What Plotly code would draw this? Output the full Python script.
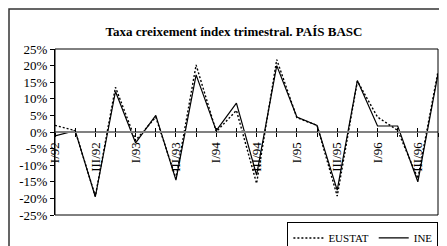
import plotly.graph_objects as go

quarters = ["I/92", "II/92", "III/92", "IV/92", "I/93", "II/93", "III/93", "IV/93",
            "I/94", "II/94", "III/94", "IV/94", "I/95", "II/95", "III/95", "IV/95",
            "I/96", "II/96", "III/96", "IV/96"]
ine = [-1.2, 0.4, -19.5, 12.2, -3.3, 5.0, -14.5, 17.2, 0.4, 8.7, -13.0, 20.0,
       4.5, 2.0, -17.5, 15.5, 1.8, 1.8, -15.0, 17.5]
eustat = [2.0, 0.4, -19.4, 13.5, -2.5, 4.5, -14.0, 20.2, 0.1, 6.5, -15.5, 21.8,
          4.3, 2.0, -19.3, 15.3, 4.5, 0.5, -14.0, 18.2]
y_ticks = [25, 20, 15, 10, 5, 0, -5, -10, -15, -20, -25]
y_ticktext = ["25%", "20%", "15%", "10%", "5%", "0%", "-5%", "-10%", "-15%", "-20%", "-25%"]
x_idx = list(range(len(quarters)))
x_ticktext = [q if q.startswith("I/") or q.startswith("III/") else "" for q in quarters]

FONT = "Liberation Serif, Times New Roman, serif"

fig = go.Figure()
fig.add_trace(go.Scatter(x=x_idx, y=eustat, mode="lines", name="EUSTAT",
                         line=dict(color="black", width=1.4, dash="2px,2px")))
fig.add_trace(go.Scatter(x=x_idx, y=ine, mode="lines", name="INE",
                         line=dict(color="black", width=1.2)))
# helper trace so the overlaying tick axis is drawn
fig.add_trace(go.Scatter(x=[x_idx[0]], y=[0], xaxis="x2", mode="lines",
                         showlegend=False, hoverinfo="skip", line=dict(width=0)))

W, H = 431, 238
fig.update_layout(
    width=W, height=H,
    margin=dict(l=47, r=1, t=41, b=31, autoexpand=False),
    paper_bgcolor="white", plot_bgcolor="white",
    font=dict(family=FONT, color="black", size=13),
    title=dict(text="<b>Taxa creixement índex trimestral. PAÍS BASC</b>",
               x=226 / W, xref="container", xanchor="center",
               y=1 - 23 / H, yref="container", yanchor="middle",
               font=dict(family=FONT, size=13, color="black")),
    xaxis=dict(range=[0, len(quarters) - 1], tickmode="array", tickvals=x_idx,
               ticktext=x_ticktext, ticks="outside", ticklen=4, tickcolor="black",
               tickangle=-90, anchor="free", position=0.5, showline=True,
               linecolor="#808080", linewidth=2, showgrid=False, zeroline=False,
               tickfont=dict(family=FONT, size=13)),
    xaxis2=dict(range=[0, len(quarters) - 1], overlaying="x", tickmode="array",
                tickvals=x_idx, ticks="inside", ticklen=4, tickcolor="black",
                showticklabels=False, anchor="free", position=0.5, showline=False,
                showgrid=False, zeroline=False),
    yaxis=dict(range=[-25, 25], tickmode="array", tickvals=y_ticks, ticktext=y_ticktext,
               ticks="outside", ticklen=4, tickcolor="black", showline=True,
               linecolor="black", linewidth=1, showgrid=False, zeroline=False,
               tickfont=dict(family=FONT, size=13)),
    legend=dict(orientation="h", x=1.001, y=-0.045, xanchor="right", yanchor="top",
                bordercolor="black", borderwidth=1, bgcolor="white",
                font=dict(family=FONT, size=11), itemwidth=30, tracegroupgap=0),
    shapes=[
        dict(type="rect", xref="paper", yref="paper", x0=0, x1=1, y0=0, y1=1,
             line=dict(color="black", width=1), layer="above"),
        dict(type="rect", xref="paper", yref="paper", x0=-0.1201, x1=1.2,
             y0=-0.5, y1=1.241, line=dict(color="#333333", width=1.5)),
    ],
    showlegend=True,
)

fig.write_html("out.html")
